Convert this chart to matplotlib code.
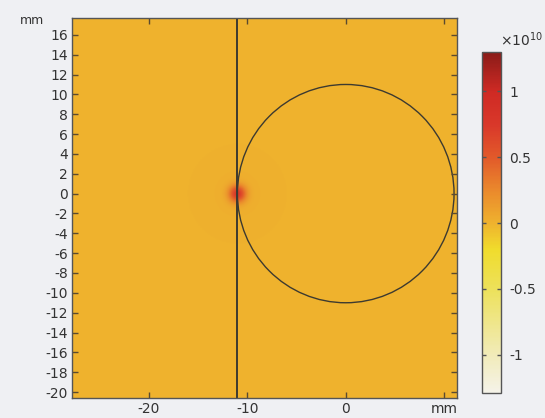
import numpy as np
import matplotlib
matplotlib.use('Agg')
import matplotlib.pyplot as plt
from matplotlib.colors import LinearSegmentedColormap
from matplotlib.patches import Circle

# axis ticks and labels
x_ticks = [-20, -10, 0, 10]
x_labels = ['-20', '-10', '0', 'mm']
y_ticks = list(range(16, -21, -2))
y_labels = [str(v) for v in y_ticks]
cb_ticks = [1, 0.5, 0, -0.5, -1]
cb_labels = ['1', '0.5', '0', '-0.5', '-1']

# geometry (mm)
x_range = [-27.8, 11.3]
y_range = [-20.6, 17.7]
line_x = -11.0
circle_center = (0.0, 0.0)
circle_radius = 11.0

# field (units of 1e10)
field_level = 0.0
source_xy = (-11.0, 0.0)
source_peak = 0.75
source_width = 0.6
halo_peak = 0.02
halo_width = 3.0
c_min, c_max = -1.29, 1.30

# colour scale, value -> colour
cmap_values = [-1.29, -1.0, -0.5, -0.2, 0.0, 0.25, 0.5, 0.75, 1.0, 1.30]
cmap_colors = ['#f5f3e9', '#f1ebb8', '#ede15a', '#f0dc2c', '#efb22e',
               '#ea892c', '#e25a2a', '#d9382a', '#cf2a24', '#8a1b18']

bg = '#eff0f3'
txt = '#333333'

nodes = [(v - c_min) / (c_max - c_min) for v in cmap_values]
cmap = LinearSegmentedColormap.from_list('heat', list(zip(nodes, cmap_colors)))

xs = np.linspace(x_range[0], x_range[1], 600)
ys = np.linspace(y_range[0], y_range[1], 600)
X, Y = np.meshgrid(xs, ys)
R2 = (X - source_xy[0]) ** 2 + (Y - source_xy[1]) ** 2
field = (field_level + source_peak * np.exp(-R2 / (2 * source_width ** 2))
         + halo_peak * np.exp(-R2 / (2 * halo_width ** 2)))

fig = plt.figure(figsize=(5.45, 4.18), dpi=100, facecolor=bg)
ax = fig.add_axes([72 / 545, 1 - 398 / 418, 385 / 545, 380 / 418])
im = ax.imshow(field, origin='lower', extent=[*x_range, *y_range],
               cmap=cmap, vmin=c_min, vmax=c_max, aspect='auto',
               interpolation='bilinear')

ax.axvline(line_x, color='#3d3a30', lw=1.4)
ax.add_patch(Circle(circle_center, circle_radius, fill=False,
                    ec='#3d3a30', lw=1.0))

ax.set_xlim(x_range)
ax.set_ylim(y_range)
ax.set_xticks(x_ticks)
ax.set_xticklabels(x_labels)
ax.set_yticks(y_ticks)
ax.set_yticklabels(y_labels)
ax.tick_params(direction='in', length=4, width=1, color='#5a4a30',
               labelsize=10, labelcolor=txt, top=True, right=True, pad=3)
for s in ax.spines.values():
    s.set_color('#555555')
    s.set_linewidth(1.0)

fig.text(20 / 545, 1 - 20 / 418, 'mm', fontsize=9, color=txt,
         ha='left', va='center')

cax = fig.add_axes([482 / 545, 1 - 393 / 418, 19 / 545, 341 / 418])
cb = fig.colorbar(im, cax=cax)
cb.set_ticks(cb_ticks)
cb.set_ticklabels(cb_labels)
cax.tick_params(direction='in', length=3, width=1, color='#555555',
                labelsize=10, labelcolor=txt, left=True, right=True, pad=6)
cb.outline.set_edgecolor('#555555')
cb.outline.set_linewidth(1.0)
fig.text(500 / 545, 1 - 40 / 418, r'$\times 10^{10}$', fontsize=10,
         color=txt, ha='left', va='center')

fig.savefig('out.png', dpi=100, facecolor=bg)
